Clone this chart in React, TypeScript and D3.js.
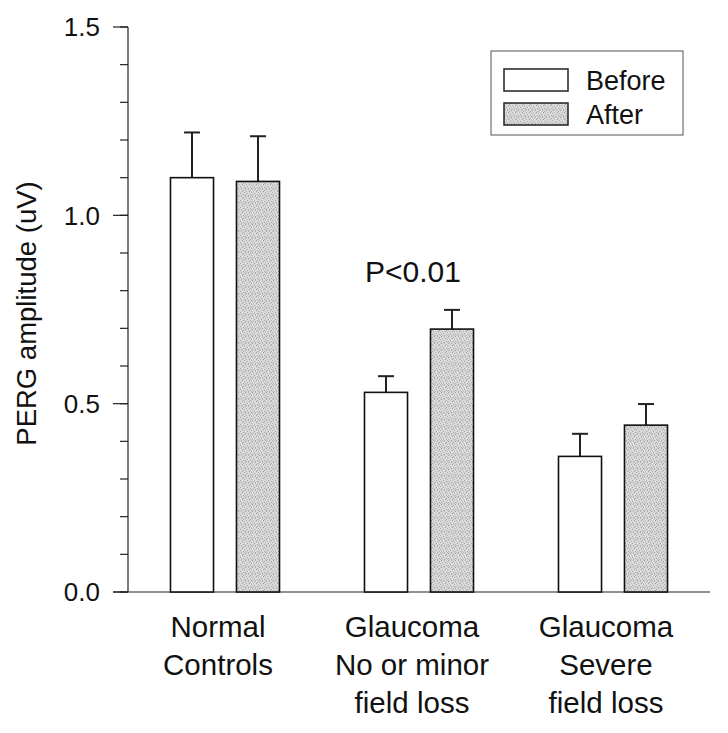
import * as d3 from "d3";

const categories = ["Normal Controls", "Glaucoma No or minor field loss", "Glaucoma Severe field loss"];
const categoryLines = [
  ["Normal", "Controls"],
  ["Glaucoma", "No or minor", "field loss"],
  ["Glaucoma", "Severe", "field loss"],
];
const seriesNames = ["Before", "After"];
const beforeValues = [1.1, 0.53, 0.36];
const beforeErrors = [0.12, 0.043, 0.06];
const afterValues = [1.09, 0.698, 0.443];
const afterErrors = [0.12, 0.051, 0.056];
const majorTicks = [0, 0.5, 1.0, 1.5];
const annotation = "P<0.01";

const font = "'Liberation Sans', Arial, sans-serif";

// fixed dot layout for the stippled fill (7x7 tile)
const stippleDots: [number, number, string][] = [
  [0, 0, "#9a9a9a"], [3, 0, "#b4b4b4"], [5, 1, "#a4a4a4"], [1, 2, "#b8b8b8"],
  [4, 2, "#9e9e9e"], [6, 3, "#b0b0b0"], [2, 4, "#a2a2a2"], [0, 5, "#b6b6b6"],
  [5, 5, "#acacac"], [3, 6, "#a8a8a8"], [1, 6, "#c0c0c0"], [6, 6, "#bababa"],
];

export default function App() {
  const width = 728;
  const height = 733;
  const left = 128;
  const right = 710;
  const top = 27;
  const bottom = 592;

  const y = d3.scaleLinear().domain([0, 1.5]).range([bottom, top]);
  const x0 = d3.scaleBand().domain(categories).range([left, right]).padding(0);
  const x1 = d3
    .scaleBand()
    .domain(seriesNames)
    .range([0, x0.bandwidth()])
    .paddingInner(0.348)
    .paddingOuter(0.644);

  const minorTicks = y.ticks(15);

  const bars = categories.flatMap((c, i) => [
    { cat: c, series: "Before", value: beforeValues[i], err: beforeErrors[i] },
    { cat: c, series: "After", value: afterValues[i], err: afterErrors[i] },
  ]);

  const capHalf = 8;
  const labelX = (c: string) => (x0(c) ?? 0) + x0.bandwidth() / 2 - 7;

  return (
    <svg
      width={width}
      height={height}
      style={{ position: "absolute", left: 0, top: 0, background: "#fff" }}
      fontFamily={font}
    >
      <defs>
        <pattern id="stipple" width={7} height={7} patternUnits="userSpaceOnUse">
          <rect width={7} height={7} fill="#d9d9d9" />
          {stippleDots.map(([px, py, col], i) => (
            <rect key={i} x={px} y={py} width={1} height={1} fill={col} />
          ))}
        </pattern>
      </defs>

      {/* y axis */}
      <line x1={left} x2={left} y1={top} y2={bottom} stroke="#222" strokeWidth={1.2} />
      {minorTicks.map((t) => (
        <line key={t} x1={left - 8} x2={left} y1={y(t)} y2={y(t)} stroke="#222" strokeWidth={1.2} />
      ))}
      {majorTicks.map((t) => (
        <g key={t}>
          <line x1={left - 15} x2={left} y1={y(t)} y2={y(t)} stroke="#222" strokeWidth={1.2} />
          <text x={left - 28} y={y(t)} dy="0.36em" textAnchor="end" fontSize={26} fill="#111">
            {d3.format(".1f")(t)}
          </text>
        </g>
      ))}
      <text
        transform={`translate(36, ${(top + bottom) / 2 + 4}) rotate(-90)`}
        textAnchor="middle"
        fontSize={27.5}
        fill="#111"
      >
        PERG amplitude (uV)
      </text>

      {/* x axis */}
      <line x1={left - 15} x2={right} y1={bottom} y2={bottom} stroke="#222" strokeWidth={1.2} />

      {/* bars */}
      {bars.map((b) => {
        const bx = (x0(b.cat) ?? 0) + (x1(b.series) ?? 0);
        const bw = x1.bandwidth();
        const cx = bx + bw / 2;
        return (
          <g key={b.cat + b.series}>
            <line x1={cx} x2={cx} y1={y(b.value)} y2={y(b.value + b.err)} stroke="#222" strokeWidth={2} />
            <line
              x1={cx - capHalf}
              x2={cx + capHalf}
              y1={y(b.value + b.err)}
              y2={y(b.value + b.err)}
              stroke="#222"
              strokeWidth={2}
            />
            <rect
              x={bx}
              y={y(b.value)}
              width={bw}
              height={bottom - y(b.value)}
              fill={b.series === "After" ? "url(#stipple)" : "#fff"}
              stroke="#111"
              strokeWidth={1.6}
            />
          </g>
        );
      })}

      {/* category labels */}
      {categories.map((c, i) => (
        <text key={c} textAnchor="middle" fontSize={29.5} fill="#111">
          {categoryLines[i].map((line, j) => (
            <tspan key={j} x={labelX(c)} y={637 + j * 38}>
              {line}
            </tspan>
          ))}
        </text>
      ))}

      {/* annotation */}
      <text x={labelX(categories[1]) + 1} y={282} textAnchor="middle" fontSize={30} fill="#111">
        {annotation}
      </text>

      {/* legend */}
      <g>
        <rect x={491} y={51} width={192} height={84} fill="none" stroke="#555" strokeWidth={1} />
        {seriesNames.map((s, i) => (
          <g key={s} transform={`translate(504, ${69 + i * 34})`}>
            <rect
              width={64}
              height={22}
              fill={s === "After" ? "url(#stipple)" : "#fff"}
              stroke="#222"
              strokeWidth={1.5}
            />
            <text x={82} y={21} fontSize={27} fill="#111">
              {s}
            </text>
          </g>
        ))}
      </g>
    </svg>
  );
}
